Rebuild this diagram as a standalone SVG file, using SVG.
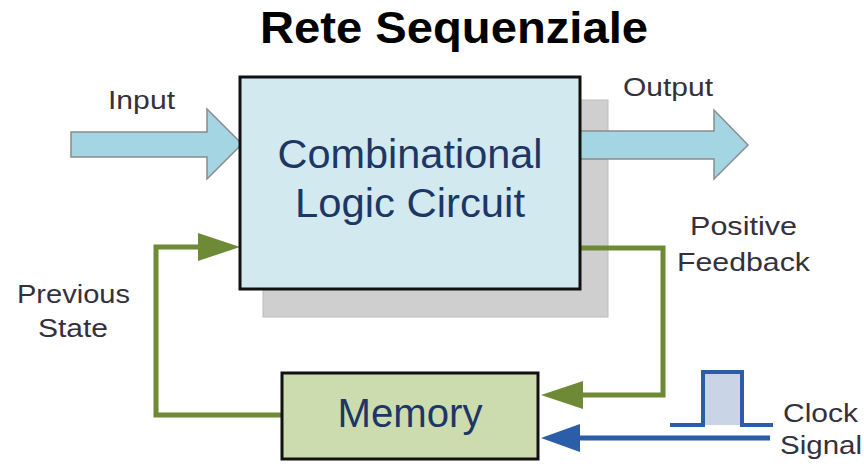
<svg xmlns="http://www.w3.org/2000/svg" width="864" height="466" viewBox="0 0 864 466">
  <style>
    .title { font-family: "Liberation Sans", Arial, sans-serif; font-weight: bold; font-size: 44px; fill: #000; }
    .label { font-family: "Liberation Sans", Arial, sans-serif; font-size: 26px; fill: #35303d; }
    .boxtext { font-family: "Liberation Sans", Arial, sans-serif; font-size: 40px; fill: #1c3766; text-anchor: middle; }
    .bigarrow { fill: #a3d6e2; stroke: #8c8c8c; stroke-width: 1.5; stroke-linejoin: miter; }
    .green { fill: none; stroke: #6f8a36; stroke-width: 5; stroke-linejoin: miter; }
    .blue { fill: none; stroke: #2a5ea8; stroke-width: 5; }
    .pulse { fill: #c9d5e6; stroke: #2a5ea8; stroke-width: 4; stroke-linejoin: miter; }
  </style>
  <defs>
    <marker id="headGreen" viewBox="0 0 42 28" markerWidth="42" markerHeight="28" markerUnits="userSpaceOnUse" refX="0" refY="14" orient="auto">
      <path d="M0,0 L42,14 L0,28 Z" fill="#6f8a36"/>
    </marker>
    <marker id="headBlue" viewBox="0 0 39 28" markerWidth="39" markerHeight="28" markerUnits="userSpaceOnUse" refX="0" refY="14" orient="auto">
      <path d="M0,0 L39,14 L0,28 Z" fill="#2a5ea8"/>
    </marker>
  </defs>

  <rect width="864" height="466" fill="#ffffff"/>

  <text class="title" x="454" y="43" text-anchor="middle" textLength="388" lengthAdjust="spacingAndGlyphs">Rete Sequenziale</text>

  <!-- drop shadow behind the logic block -->
  <rect x="263" y="100" width="345" height="217" fill="#cfcfcf" stroke="#bdbdbd" stroke-width="1"/>

  <g id="connectors">
    <!-- wide data arrows -->
    <polygon id="input-arrow" class="bigarrow" points="71,132 207,132 207,109 242,144 207,179 207,157 71,157"/>
    <polygon id="output-arrow" class="bigarrow" points="578,131 714,131 714,110 748,145 714,179 714,159 578,159"/>
    <!-- positive feedback into memory -->
    <polyline class="green" points="580,248 663,248 663,395 583,395" marker-end="url(#headGreen)"/>
    <!-- previous state back into the logic block -->
    <polyline class="green" points="282,415 156,415 156,247 198,247" marker-end="url(#headGreen)"/>
    <!-- clock line into memory -->
    <line class="blue" x1="770" y1="438" x2="580" y2="438" marker-end="url(#headBlue)"/>
  </g>

  <g id="clock-pulse">
    <path class="pulse" d="M670,425 H703 V372 H742 V425 H773"/>
  </g>

  <g id="logic">
    <rect x="240" y="77" width="340" height="212" fill="#d3e9f0" stroke="#111" stroke-width="3"/>
    <text class="boxtext" x="410" y="168" textLength="265" lengthAdjust="spacingAndGlyphs">Combinational</text>
    <text class="boxtext" x="410" y="217" textLength="230" lengthAdjust="spacingAndGlyphs">Logic Circuit</text>
  </g>

  <g id="memory">
    <rect x="282" y="373" width="256" height="86" fill="#cddcae" stroke="#111" stroke-width="3"/>
    <text class="boxtext" x="410" y="427" textLength="145" lengthAdjust="spacingAndGlyphs">Memory</text>
  </g>

  <g id="labels">
    <text class="label" x="108" y="109" textLength="67" lengthAdjust="spacingAndGlyphs">Input</text>
    <text class="label" x="623" y="96" textLength="90" lengthAdjust="spacingAndGlyphs">Output</text>
    <text class="label" x="690" y="235" textLength="107" lengthAdjust="spacingAndGlyphs">Positive</text>
    <text class="label" x="677" y="271" textLength="133" lengthAdjust="spacingAndGlyphs">Feedback</text>
    <text class="label" x="17" y="303" textLength="113" lengthAdjust="spacingAndGlyphs">Previous</text>
    <text class="label" x="38" y="337" textLength="70" lengthAdjust="spacingAndGlyphs">State</text>
    <text class="label" x="783" y="422" textLength="75" lengthAdjust="spacingAndGlyphs">Clock</text>
    <text class="label" x="780" y="454" textLength="82" lengthAdjust="spacingAndGlyphs">Signal</text>
  </g>
</svg>
